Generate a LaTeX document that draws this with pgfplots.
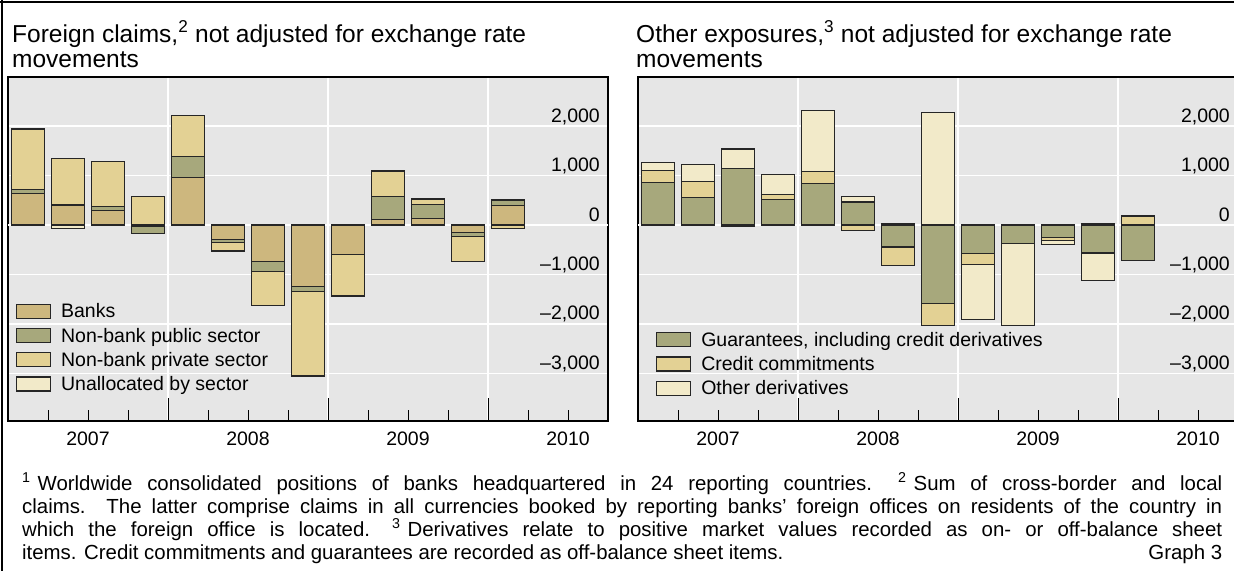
\documentclass[border=0pt]{standalone}
\usepackage{fontspec}
\setmainfont{Liberation Sans}
\usepackage{pgfplots}
\usepackage{pgfplotstable}
\pgfplotsset{compat=1.18}

\definecolor{cbank}{RGB}{205,183,126}
\definecolor{cpub}{RGB}{167,168,124}
\definecolor{cpriv}{RGB}{227,209,148}
\definecolor{cunal}{RGB}{242,234,201}
\definecolor{bggray}{RGB}{230,230,230}

% Left panel: foreign claims (positive and negative parts)
\pgfplotstableread{
x    a     b     c     d
0.5  640   80    1220  0
1.5  405   0     945   0
2.5  300   70    920   0
3.5  0     0     570   0
4.5  960   420   840   0
5.5  0     0     0     0
6.5  0     0     0     0
7.5  0     0     0     0
8.5  0     0     0     0
9.5  115   460   515   0
10.5 135   285   100   20
11.5 0     0     0     0
12.5 390   115   0     0
}\leftpos
\pgfplotstableread{
x    a      b     c      d
0.5  0      0     0      0
1.5  0      -15   0      -50
2.5  0      0     0      0
3.5  -30    -150  0      0
4.5  0      0     0      0
5.5  -290   -70   -165   0
6.5  -740   -200  -690   0
7.5  -1235  -115  -1700  0
8.5  -590   0     -840   -20
9.5  0      0     0      0
10.5 0      0     0      0
11.5 -155   -80   -505   0
12.5 0      0     -67    0
}\leftneg
% Right panel: other exposures
\pgfplotstableread{
x    a     b     c
0.5  860   235   175
1.5  550   325   355
2.5  1150  0     385
3.5  520   95    400
4.5  840   235   1230
5.5  450   15    115
6.5  0     0     30
7.5  0     0     2270
8.5  0     0     0
9.5  0     0     0
10.5 0     0     0
11.5 0     0     30
12.5 0     170   25
}\rightpos
\pgfplotstableread{
x    a      b     c
0.5  0      0     0
1.5  0      0     0
2.5  0      -25   0
3.5  0      0     0
4.5  0      0     0
5.5  0      -110  0
6.5  -445   -365  0
7.5  -1585  -440  0
8.5  -575   -230  -1105
9.5  -375   0     -1650
10.5 -260   -50   -80
11.5 -565   0     -560
12.5 -720   0     0
}\rightneg

\newcommand{\smallfont}{\fontsize{19.5}{22}\selectfont}

\pgfplotsset{
  swatch/.style={
    legend image code/.code={%
      \draw[#1,line width=1.1pt,draw=black!85] (0pt,-7pt) rectangle (34pt,7pt);}
  },
  panelbase/.style={
    scale only axis, width=600pt, height=344pt,
    xmin=0, xmax=15, ymin=-3960, ymax=2990,
    anchor=south west,
    ybar stacked, bar width=33pt,
    every axis plot/.append style={draw=black!85, line width=1.1pt},
  },
  panelA/.style={
    axis background/.style={fill=bggray},
    axis line style={black, line width=2.5pt},
    tick align=inside,
    xtick pos=left, ytick pos=right,
    xtick={4,8,12}, xticklabels={{},{},{}},
    minor xtick={1,2,3,5,6,7,9,10,11,13,14},
    major tick length=23pt, minor tick length=11pt,
    tick style={black, line width=1pt},
    xmajorgrids, 
    major x grid style={white, line width=1.5pt},
    extra x ticks={2,6,10,14},
    extra x tick labels={2007,2008,2009,2010},
    extra x tick style={grid=none, major tick length=0pt},
    xticklabel style={font=\smallfont, anchor=base, inner sep=0pt, yshift=-24pt},
    ytick={-3000,-2000,-1000,1000,2000},
    yticklabels={{--3,000},{--2,000},{--1,000},{1,000},{2,000}},
    ymajorgrids,
    major y grid style={white, line width=1.5pt},
    ytick style={draw=none},
    yticklabel pos=right,
    yticklabel style={font=\smallfont, anchor=base east, inner sep=0pt, xshift=-8pt, yshift=4pt},
    extra y ticks={0}, extra y tick labels={0},
    extra y tick style={major grid style={black!65, line width=1pt}},
  },
  legendaxis/.style={
    panelbase, hide axis, ybar=0pt,
    legend style={draw=none, fill=none, font=\smallfont, anchor=north west,
      inner sep=0pt, row sep=4.5pt, nodes={inner sep=2pt},
      /tikz/every odd column/.append style={column sep=8pt}},
    legend cell align=left,
  },
}

\begin{document}
\begin{tikzpicture}
\useasboundingbox (0pt,0pt) rectangle (1234pt,-571pt);
% frame
\draw[line width=2.5pt] (0pt,-1.8pt) -- (1234pt,-1.8pt);
\draw[line width=2pt] (2pt,0pt) -- (2pt,-571pt);

% titles
\node[anchor=base west, inner sep=0pt, font=\fontsize{24.5}{28}\selectfont] at (12pt,-42pt)
  {Foreign claims,\textsuperscript{2} not adjusted for exchange rate};
\node[anchor=base west, inner sep=0pt, font=\fontsize{24.5}{28}\selectfont] at (12pt,-67pt)
  {movements};
\node[anchor=base west, inner sep=0pt, font=\fontsize{24.5}{28}\selectfont] at (636pt,-42pt)
  {Other exposures,\textsuperscript{3} not adjusted for exchange rate};
\node[anchor=base west, inner sep=0pt, font=\fontsize{24.5}{28}\selectfont] at (636pt,-67pt)
  {movements};

% ---------------- left panel ----------------
\begin{axis}[panelbase, panelA, at={(8pt,-421pt)}]
\addplot[fill=cbank] table[x=x,y=a] {\leftpos};
\addplot[fill=cpub]  table[x=x,y=b] {\leftpos};
\addplot[fill=cpriv] table[x=x,y=c] {\leftpos};
\addplot[fill=cunal] table[x=x,y=d] {\leftpos};
\end{axis}
\begin{axis}[panelbase, hide axis, at={(8pt,-421pt)}]
\addplot[fill=cbank] table[x=x,y=a] {\leftneg};
\addplot[fill=cpub]  table[x=x,y=b] {\leftneg};
\addplot[fill=cpriv] table[x=x,y=c] {\leftneg};
\addplot[fill=cunal] table[x=x,y=d] {\leftneg};
\end{axis}
\begin{axis}[legendaxis, at={(8pt,-421pt)},
  legend style={at={(axis description cs:0.013,0.347)}}]
\addlegendimage{swatch, fill=cbank}
\addlegendentry{Banks}
\addlegendimage{swatch, fill=cpub}
\addlegendentry{Non-bank public sector}
\addlegendimage{swatch, fill=cpriv}
\addlegendentry{Non-bank private sector}
\addlegendimage{swatch, fill=cunal}
\addlegendentry{Unallocated by sector}
\end{axis}

% ---------------- right panel ----------------
\begin{axis}[panelbase, panelA, at={(638pt,-421pt)}]
\addplot[fill=cpub]  table[x=x,y=a] {\rightpos};
\addplot[fill=cpriv] table[x=x,y=b] {\rightpos};
\addplot[fill=cunal] table[x=x,y=c] {\rightpos};
\end{axis}
\begin{axis}[panelbase, hide axis, at={(638pt,-421pt)}]
\addplot[fill=cpub]  table[x=x,y=a] {\rightneg};
\addplot[fill=cpriv] table[x=x,y=b] {\rightneg};
\addplot[fill=cunal] table[x=x,y=c] {\rightneg};
\end{axis}
\begin{axis}[legendaxis, at={(638pt,-421pt)},
  legend style={at={(axis description cs:0.030,0.265)}}]
\addlegendimage{swatch, fill=cpub}
\addlegendentry{Guarantees, including credit derivatives}
\addlegendimage{swatch, fill=cpriv}
\addlegendentry{Credit commitments}
\addlegendimage{swatch, fill=cunal}
\addlegendentry{Other derivatives}
\end{axis}

% footnotes
\begin{scope}[every node/.style={anchor=base west, inner sep=0pt, font=\fontsize{20.4}{23}\selectfont}]
\node at (22pt,-490pt) {\hbox to 1200pt{\textsuperscript{1}\hspace{7pt}Worldwide consolidated positions of banks headquartered in 24 reporting countries.\hspace{26pt}\textsuperscript{2}\hspace{7pt}Sum of cross-border and local}};
\node at (22pt,-513pt) {\hbox to 1200pt{claims. The latter comprise claims in all currencies booked by reporting banks' foreign offices on residents of the country in}};
\node at (22pt,-536pt) {\hbox to 1200pt{which the foreign office is located.\hspace{22pt}\textsuperscript{3}\hspace{7pt}Derivatives relate to positive market values recorded as on- or off-balance sheet}};
\node at (22pt,-559pt) {\hbox to 1200pt{items. Credit commitments and guarantees are recorded as off-balance sheet items.\hfill Graph 3}};
\end{scope}
\end{tikzpicture}
\end{document}
